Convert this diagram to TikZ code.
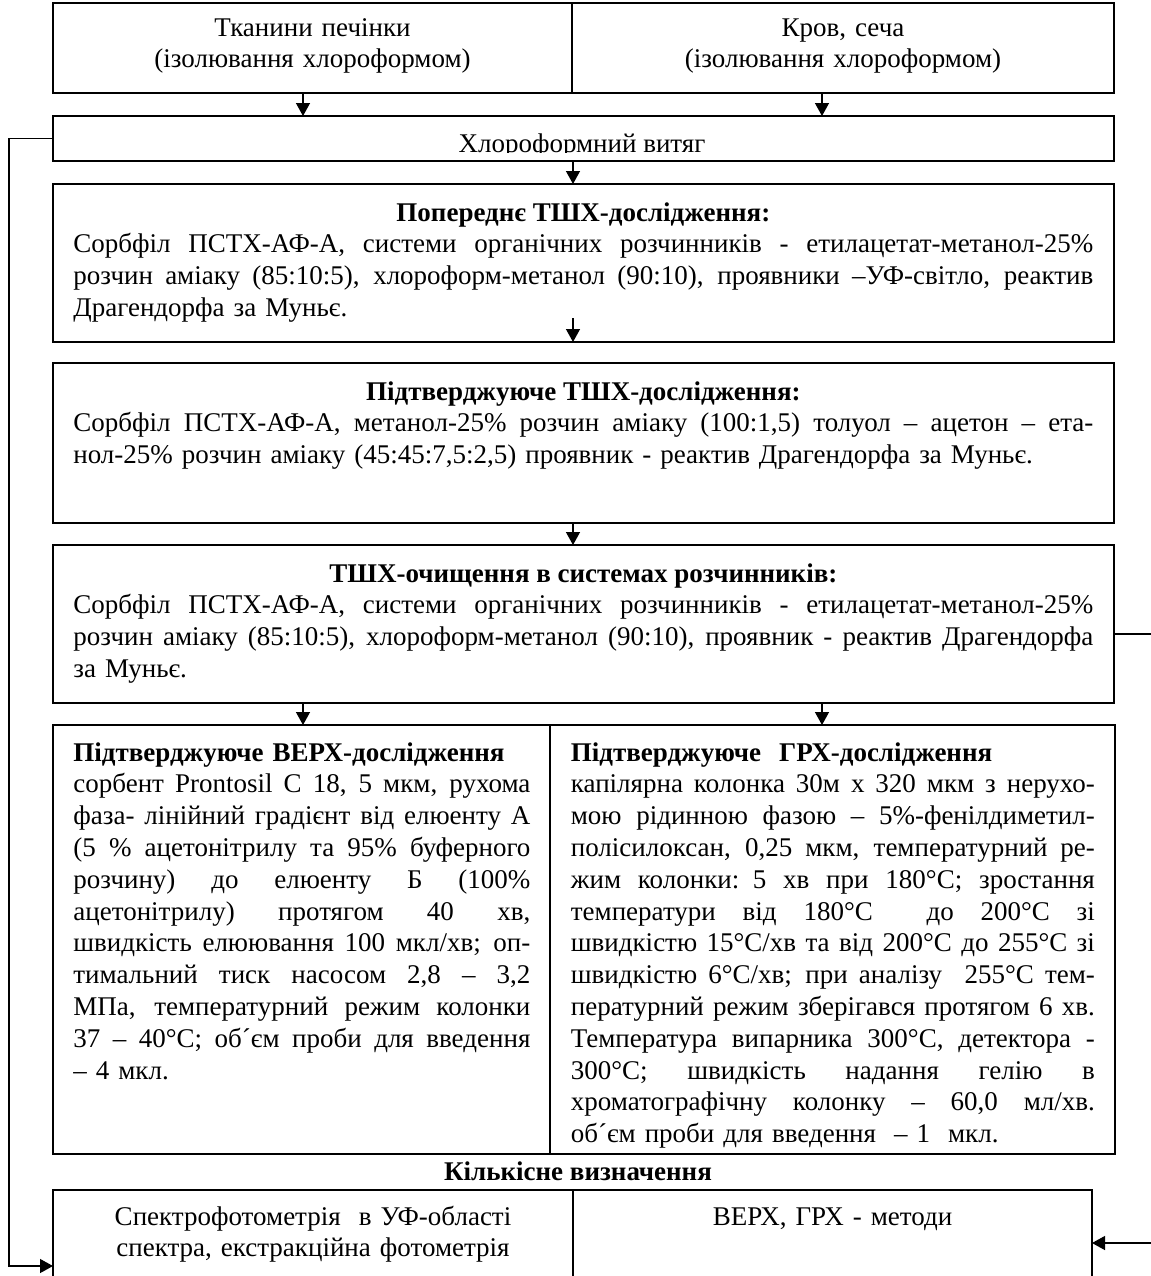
\documentclass[tikz,border=0pt]{standalone}
\usepackage{fontspec}
\setmainfont{Liberation Serif}
\usetikzlibrary{arrows.meta}
\newcommand{\fs}{\fontsize{13.5}{15.9}\selectfont}
\newlength{\colw}
\newcommand{\fullline}[1]{\hbox to\colw{\spaceskip=0.25em plus 0.5em minus 0.08em\relax #1}}
\newcommand{\headline}[1]{\fullline{\hfil\bfseries #1\hfil}}
\tikzset{
  every picture/.style={line join=miter, >={Triangle[length=6.5pt,width=7pt]}},
  box/.style={draw, rectangle, line width=0.75pt, inner sep=0pt, outer sep=0pt},
  heavybox/.style={box, line width=1pt},
  txt/.style={inner sep=0pt, font=\fs},
  column/.style={txt, text width=#1, anchor=base west, execute at begin node={\setlength{\colw}{#1}}},
  link/.style={->, line width=0.65pt},
}

\begin{document}
\begin{tikzpicture}[x=0.5pt,y=-0.5pt]
\useasboundingbox (0,0) rectangle (1151,1276);
\node[box,minimum width=259.5pt,minimum height=45pt] (tissue) at (312.5,48) {};
\node[box,minimum width=271pt,minimum height=45pt] (blood) at (843,48) {};
\node[box,minimum width=530.5pt,minimum height=22.5pt] (extract) at (583.5,138.5) {};
\node[heavybox,minimum width=530.5pt,minimum height=79pt] (prelim) at (583.5,263) {};
\node[box,minimum width=530.5pt,minimum height=80pt] (confirm) at (583.5,443) {};
\node[heavybox,minimum width=530.5pt,minimum height=79pt] (cleanup) at (583.5,624) {};
\node[box,minimum width=248.5pt,minimum height=214.5pt] (hplc) at (301.5,939.5) {};
\node[box,minimum width=282.5pt,minimum height=214.5pt] (gc) at (832.5,939.5) {};
\node[box,minimum width=260pt,minimum height=55pt] (spectro) at (313,1245) {};
\node[box,minimum width=259.5pt,minimum height=55pt] (methods) at (832.5,1245) {};

\node[txt,text width=250pt,align=center,anchor=base] (tissuetxt) at (312.5,36) {Тканини печінки\\(ізолювання хлороформом)};
\node[txt,text width=260pt,align=center,anchor=base] (bloodtxt) at (843,36) {Кров, сеча\\(ізолювання хлороформом)};
\begin{scope}
\clip (53,116) rectangle (1114,152.5);
\node[txt,anchor=base] (extracttxt) at (582,152) {Хлороформний витяг};
\end{scope}

\node[column=510pt] (prelimtxt) at (73,221) {%
\headline{Попереднє ТШХ-дослідження:}
\fullline{Сорбфіл ПСТХ-АФ-А, системи органічних розчинників - етилацетат-метанол-25\%}
\fullline{розчин аміаку (85:10:5), хлороформ-метанол (90:10), проявники –УФ-світло, реактив}
\hbox{Драгендорфа за Муньє.}};
\node[column=510pt] (confirmtxt) at (73,400) {%
\headline{Підтверджуюче ТШХ-дослідження:}
\fullline{Сорбфіл ПСТХ-АФ-А, метанол-25\% розчин аміаку (100:1,5) толуол – ацетон – ета-}
\hbox{нол-25\% розчин аміаку (45:45:7,5:2,5) проявник - реактив Драгендорфа за Муньє.}};
\node[column=510pt] (cleanuptxt) at (73,582) {%
\headline{ТШХ-очищення в системах розчинників:}
\fullline{Сорбфіл ПСТХ-АФ-А, системи органічних розчинників - етилацетат-метанол-25\%}
\fullline{розчин аміаку (85:10:5), хлороформ-метанол (90:10), проявник - реактив Драгендорфа}
\hbox{за Муньє.}};

\node[column=228.5pt] (hplctxt) at (73,761) {%
\hbox{\bfseries Підтверджуюче ВЕРХ-дослідження}
\fullline{сорбент Prontosil C 18, 5 мкм, рухома}
\fullline{фаза- лінійний градієнт від елюенту А}
\fullline{(5 \% ацетонітрилу та 95\% буферного}
\fullline{розчину) до елюенту Б (100\%}
\fullline{ацетонітрилу) протягом 40 хв,}
\fullline{швидкість елюювання 100 мкл/хв; оп-}
\fullline{тимальний тиск насосом 2,8 – 3,2}
\fullline{МПа, температурний режим колонки}
\fullline{37 – 40°С; об´єм проби для введення}
\hbox{– 4 мкл.}};
\node[column=262pt] (gctxt) at (570.5,761) {%
\hbox{\bfseries Підтверджуюче\ \ ГРХ-дослідження}
\fullline{капілярна колонка 30м х 320 мкм з нерухо-}
\fullline{мою рідинною фазою – 5\%-фенілдиметил-}
\fullline{полісилоксан, 0,25 мкм, температурний ре-}
\fullline{жим колонки: 5 хв при 180°С; зростання}
\fullline{температури від 180°С\ \ до 200°С зі}
\fullline{швидкістю 15°С/хв та від 200°С до 255°С зі}
\fullline{швидкістю 6°С/хв; при аналізу\ \ 255°С тем-}
\fullline{пературний режим зберігався протягом 6 хв.}
\fullline{Температура випарника 300°С, детектора -}
\fullline{300°С; швидкість надання гелію в}
\fullline{хроматографічну колонку – 60,0 мл/хв.}
\hbox{об´єм проби для введення\ \ – 1\ \ мкл.}};

\node[txt,font=\fs\bfseries,anchor=base] (quanttitle) at (578,1180) {Кількісне визначення};
\node[txt,text width=255pt,align=center,anchor=base] (spectrotxt) at (313,1225) {Спектрофотометрія\ \ в УФ-області\\спектра, екстракційна фотометрія};
\node[txt,text width=255pt,align=center,anchor=base] (methodstxt) at (832.5,1225) {ВЕРХ, ГРХ - методи};

\coordinate (colA) at (303,0);
\coordinate (colB) at (822,0);
\coordinate (colM) at (573,0);
\coordinate (loopL) at (9,1266);
\coordinate (loopR) at (1154,1243);
\draw[link] (tissue.south -| colA) -- (extract.north -| colA);
\draw[link] (blood.south -| colB) -- (extract.north -| colB);
\draw[link] (extract.south -| colM) -- (prelim.north -| colM);
\draw[link] ([yshift=12pt]prelim.south -| colM) -- (prelim.south -| colM);
\draw[link] (confirm.south -| colM) -- (cleanup.north -| colM);
\draw[link] (cleanup.south -| colA) -- (hplc.north -| colA);
\draw[link] (cleanup.south -| colB) -- (gc.north -| colB);
\draw[link] (extract.west) -| (loopL) -- (loopL -| spectro.west);
\draw[link] ([yshift=-5pt]cleanup.east) -| (loopR) -- (loopR -| methods.east);
\end{tikzpicture}
\end{document}
